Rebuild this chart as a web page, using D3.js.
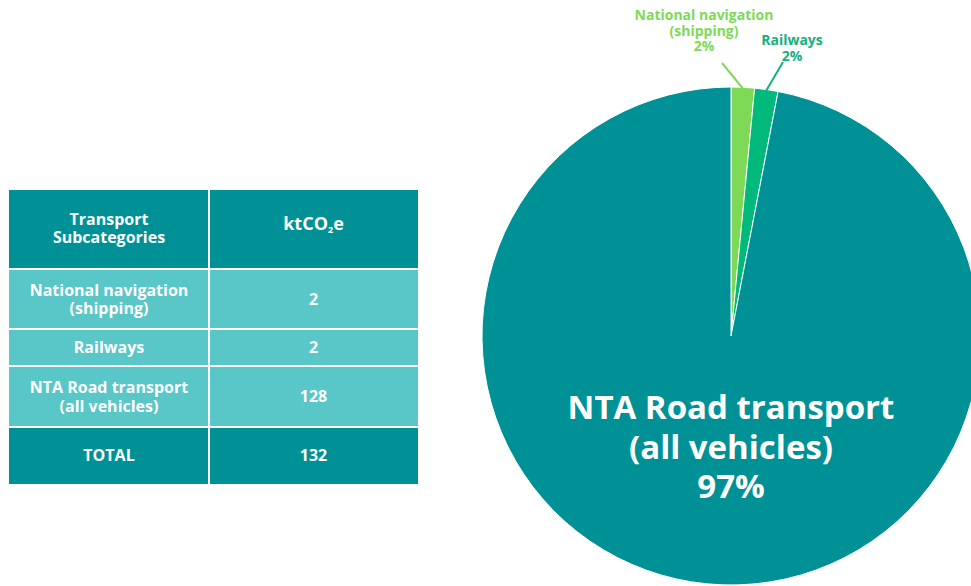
<!DOCTYPE html>
<html><head><meta charset="utf-8">
<script src="https://cdn.jsdelivr.net/npm/d3@7/dist/d3.min.js"></script>
<style>
body{margin:0;background:#fff;}
text{font-family:"Open Sans",sans-serif;font-weight:700;}
</style></head>
<body><svg id="c" width="971" height="586"></svg>
<script>
const categories = ["National navigation (shipping)", "Railways", "NTA Road transport (all vehicles)"];
const tableLabels = [["National navigation","(shipping)"],["Railways"],["NTA Road transport","(all vehicles)"]];
const values = [2, 2, 128];
const total = 132;
const percentLabels = ["2%", "2%", "97%"];
const sliceColors = ["#7ED957", "#00B97A", "#009196"];
const labelColors = ["#7ED957", "#16B07E", "#ffffff"];

const svg = d3.select("#c");

// ---- Table ----
const tLeft = 9, tRight = 418, tDiv = 209;
const rowY = [[190,268],[270,328],[330,365],[367,426],[428,484]];
const rowFill = ["#009196","#59C6C8","#59C6C8","#59C6C8","#009196"];
const g = svg.append("g");
rowY.forEach((r,i)=>{
  g.append("rect").attr("x",tLeft).attr("y",r[0]).attr("width",tDiv-tLeft-1).attr("height",r[1]-r[0]).attr("fill",rowFill[i]);
  g.append("rect").attr("x",tDiv+1).attr("y",r[0]).attr("width",tRight-tDiv-1).attr("height",r[1]-r[0]).attr("fill",rowFill[i]);
});
const cx1 = (tLeft+tDiv)/2, cx2 = (tDiv+tRight)/2;
function cellText(x, yc, lines, size, lh){
  lh = lh || size*1.2;
  const t = g.append("text").attr("x",x).attr("text-anchor","middle").attr("fill","#fff").attr("font-size",size);
  lines.forEach((l,i)=>{
    t.append("tspan").attr("x",x).attr("y", yc - (lines.length-1)*lh/2 + i*lh + size*0.36).text(l);
  });
  return t;
}
cellText(cx1, (rowY[0][0]+rowY[0][1])/2 - 1, ["Transport","Subcategories"], 16, 18.5);
const hdr = g.append("text").attr("x",cx2).attr("y",(rowY[0][0]+rowY[0][1])/2 + 1).attr("text-anchor","middle").attr("fill","#fff").attr("font-size",18);
hdr.append("tspan").text("ktCO");
hdr.append("tspan").attr("font-size",9).attr("dy",3).text("2");
hdr.append("tspan").attr("dy",-3).text("e");
tableLabels.forEach((lines,i)=>{
  const r = rowY[i+1], yc=(r[0]+r[1])/2;
  cellText(cx1, yc, lines, 16, 18.5);
  cellText(cx2, yc, [String(values[i])], 16);
});
cellText(cx1, (rowY[4][0]+rowY[4][1])/2 - 1, ["TOTAL"], 16);
cellText(cx2, (rowY[4][0]+rowY[4][1])/2 - 1, [String(total)], 16);

// ---- Pie ----
const pcx = 731, pcy = 336, R = 249;
const pie = d3.pie().sort(null).value(d=>d)(values);
const arc = d3.arc().innerRadius(0).outerRadius(R);
const pg = svg.append("g").attr("transform",`translate(${pcx},${pcy})`);
pg.selectAll("path").data(pie).join("path").attr("d",arc).attr("fill",(d,i)=>sliceColors[i]).attr("stroke","#fff").attr("stroke-width",1);

// leader lines & small labels
const leaderEnds = [[ -9, -273 ],[ 52, -274 ]];
const labelPos = [[-27, -316, ["National navigation","(shipping)"]],[61, -291, ["Railways"]]];
[0,1].forEach(i=>{
  const d = pie[i];
  const a = (d.startAngle+d.endAngle)/2;
  const r0 = R - 1;
  const x0 = r0*Math.sin(a), y0 = -r0*Math.cos(a);
  pg.append("line").attr("x1",x0).attr("y1",y0).attr("x2",leaderEnds[i][0]).attr("y2",leaderEnds[i][1])
    .attr("stroke",labelColors[i]).attr("stroke-width",2);
  const [lx, ly, lines] = labelPos[i];
  const t = pg.append("text").attr("text-anchor","middle").attr("fill",labelColors[i]).attr("font-size",14);
  lines.concat([percentLabels[i]]).forEach((l,k)=>t.append("tspan").attr("x",lx).attr("y",ly+k*15.5).text(l));
});
// big label
const bt = pg.append("text").attr("text-anchor","middle").attr("fill","#fff").attr("font-size",33);
["NTA Road transport","(all vehicles)",percentLabels[2]].forEach((l,k)=>bt.append("tspan").attr("x",0).attr("y",83+k*39.5).text(l));
</script></body></html>
